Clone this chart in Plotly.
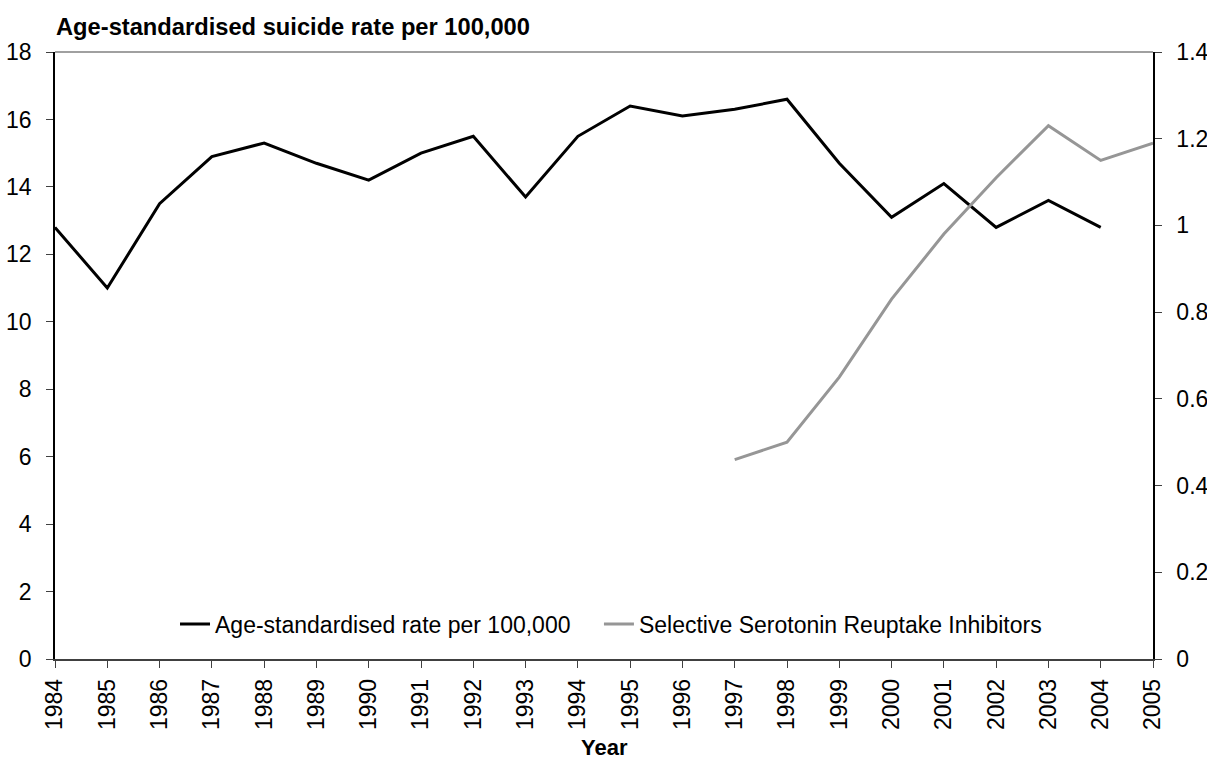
import plotly.graph_objects as go

# Years and series
years = list(range(1984, 2006))
suicide_rate = [12.8, 11.0, 13.5, 14.9, 15.3, 14.7, 14.2, 15.0, 15.5, 13.7, 15.5,
                16.4, 16.1, 16.3, 16.6, 14.7, 13.1, 14.1, 12.8, 13.6, 12.8]
ssri_years = list(range(1997, 2006))
ssri = [0.46, 0.50, 0.65, 0.83, 0.98, 1.11, 1.23, 1.15, 1.19]

FONT = "Liberation Sans, Arial, sans-serif"
TICK_FONT = 23

fig = go.Figure()
fig.add_trace(go.Scatter(
    x=years[:len(suicide_rate)], y=suicide_rate, mode="lines",
    name="Age-standardised rate per 100,000",
    line=dict(color="#000000", width=3), legend="legend",
))
fig.add_trace(go.Scatter(
    x=ssri_years, y=ssri, mode="lines", yaxis="y2",
    name="Selective Serotonin Reuptake Inhibitors",
    line=dict(color="#969696", width=3), legend="legend2",
))

legend_style = dict(orientation="h", xanchor="left", y=0.0577, yanchor="middle",
                    bgcolor="rgba(0,0,0,0)", font=dict(size=TICK_FONT))

fig.update_layout(
    width=1207, height=762,
    margin=dict(l=55, r=54, t=52, b=103),
    paper_bgcolor="white", plot_bgcolor="white",
    font=dict(family=FONT, size=TICK_FONT, color="#000000"),
    showlegend=True,
    legend=dict(x=0.1093, **legend_style),
    legend2=dict(x=0.4954, **legend_style),
    xaxis=dict(
        range=[1984, 2005], tickmode="array", tickvals=years,
        ticktext=[str(y) for y in years], tickangle=-90,
        showgrid=False, zeroline=False, showline=True, linecolor="#404040",
        linewidth=1.5, ticks="outside", ticklen=7, tickcolor="#404040",
        ticklabelstandoff=2, automargin=False,
    ),
    yaxis=dict(
        range=[0, 18], dtick=2, showgrid=False, zeroline=False,
        showline=True, linecolor="#000000", linewidth=1.5,
        ticks="outside", ticklen=7, tickcolor="#404040", ticklabelstandoff=10,
        automargin=False,
    ),
    yaxis2=dict(
        range=[0, 1.4], dtick=0.2, overlaying="y", side="right",
        showgrid=False, zeroline=False, showline=True, linecolor="#000000",
        linewidth=1.5, ticks="outside", ticklen=7, tickcolor="#404040",
        ticklabelstandoff=10, automargin=False,
    ),
    shapes=[dict(type="line", xref="paper", yref="paper", x0=0, x1=1, y0=1, y1=1,
                 line=dict(color="#808080", width=1.5))],
    annotations=[
        dict(text="<b>Year</b>",
             xref="paper", yref="paper", x=0.5, y=0, xanchor="center", yanchor="middle",
             yshift=-88, showarrow=False, font=dict(size=22)),
        dict(text="<b>Age-standardised suicide rate per 100,000</b>",
             xref="paper", yref="paper", x=0, y=1, xanchor="left", yanchor="bottom",
             xshift=-1, yshift=10, showarrow=False, font=dict(size=23.7)),
    ],
)

fig.write_html("out.html")
